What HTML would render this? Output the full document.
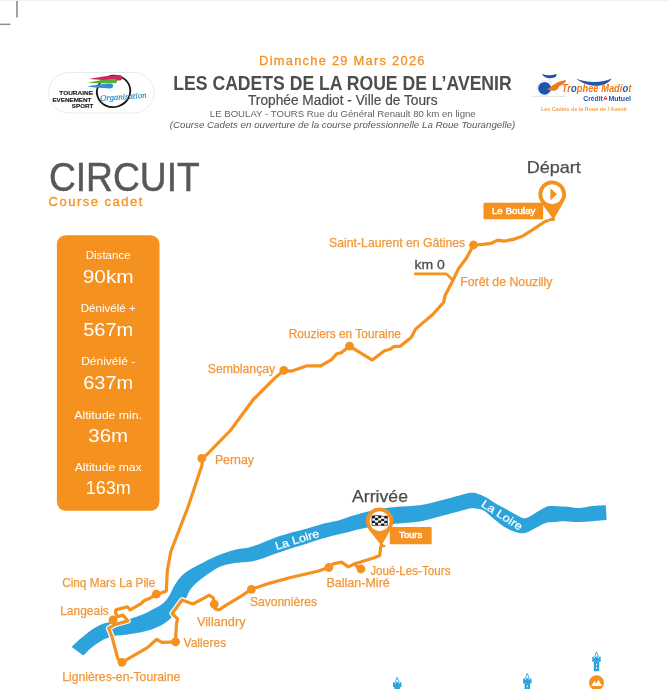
<!DOCTYPE html>
<html lang="fr"><head><meta charset="utf-8"><title>Les Cadets de la Roue de l'Avenir - Circuit</title>
<style>html,body{margin:0;padding:0;background:#fff;}body{width:668px;height:689px;overflow:hidden;}svg{display:block;font-family:'Liberation Sans', sans-serif;}</style>
</head><body>
<svg width="668" height="689" viewBox="0 0 668 689">
<rect width="668" height="689" fill="#fff"/>
<rect x="0" y="0" width="668" height="1" fill="#f1f1f1"/>
<rect x="16.2" y="1" width="1.6" height="16.4" fill="#8c8c8c"/>
<rect x="0" y="23.6" width="10.4" height="1.5" fill="#8c8c8c"/>
<g id="header">
<text x="259.1" y="64.9" font-size="12.9" fill="#F5911F" stroke="#F5911F" stroke-width="0.3" textLength="165.4" lengthAdjust="spacing">Dimanche 29 Mars 2026</text>
<text x="173.3" y="89.6" font-size="20.8" fill="#4d4d4f" font-weight="bold" textLength="338.4" lengthAdjust="spacingAndGlyphs">LES CADETS DE LA ROUE DE L’AVENIR</text>
<text x="248.0" y="105.4" font-size="15.2" fill="#4d4d4f" stroke="#4d4d4f" stroke-width="0.2" textLength="189.5" lengthAdjust="spacingAndGlyphs">Trophée Madiot - Ville de Tours</text>
<text x="209.8" y="116.9" font-size="9.8" fill="#636466" textLength="265.9" lengthAdjust="spacingAndGlyphs">LE BOULAY - TOURS Rue du Général Renault 80 km en ligne</text>
<text x="169.7" y="128.0" font-size="9.7" fill="#58585a" font-style="italic" textLength="345.6" lengthAdjust="spacingAndGlyphs">(Course Cadets en ouverture de la course professionnelle La Roue Tourangelle)</text>
</g>
<g id="logo-tes">
<rect x="48.6" y="72.5" width="105.4" height="40.4" rx="20.2" fill="#fff" stroke="#d2dfea" stroke-width="0.6"/>
<ellipse cx="113.6" cy="91.4" rx="16.8" ry="15.6" fill="none" stroke="#151515" stroke-width="1.8" transform="rotate(-18 113.6 91.4)"/>
<path d="M88.8 79 C98 77.4 108 75.8 118.6 75.1 C121.4 75 122.6 76.4 122.4 77.9 C122.2 79.5 120.8 80.5 118.8 80.5 C108 80.4 98 79.8 88.8 79Z" fill="#D5245F"/>
<path d="M87.8 82.8 C96 81 104.6 79.4 113.6 78.8 C116.2 78.7 117.4 79.9 117.2 81.2 C117 82.6 115.8 83.3 113.8 83.3 C104.6 83.4 96 83.2 87.8 82.8Z" fill="#59AF32"/>
<path d="M87.2 86.6 C94 85.2 102 83.9 109.4 83.5 C112.2 83.4 113.4 84.7 113.2 86.1 C113 87.6 111.8 88.4 109.6 88.4 C102 88.3 94 87.6 87.2 86.6Z" fill="#2F8FD6"/>
<text x="93.0" y="94.8" font-size="6" fill="#1d1d1d" stroke="#1d1d1d" stroke-width="0.15" text-anchor="end" font-weight="bold" textLength="33.7" lengthAdjust="spacingAndGlyphs">TOURAINE</text>
<text x="91.4" y="101.7" font-size="6" fill="#1d1d1d" stroke="#1d1d1d" stroke-width="0.15" text-anchor="end" font-weight="bold" textLength="39.0" lengthAdjust="spacingAndGlyphs">EVENEMENT</text>
<text x="93.4" y="108.3" font-size="6" fill="#1d1d1d" stroke="#1d1d1d" stroke-width="0.15" text-anchor="end" font-weight="bold" textLength="21.6" lengthAdjust="spacingAndGlyphs">SPORT</text>
<text x="100.3" y="101.0" font-size="8.4" fill="#3790C0" stroke="#3790C0" stroke-width="0.2" font-style="italic" textLength="46.5" lengthAdjust="spacingAndGlyphs" font-family="'Liberation Serif', serif" transform="rotate(-4 100.3 101)">Organisation</text>
</g>
<g id="logo-madiot">
<circle cx="544.6" cy="88.3" r="7.8" fill="none" stroke="#d3dbea" stroke-width="0.6"/>
<circle cx="561" cy="91" r="5.6" fill="none" stroke="#e1e5ee" stroke-width="0.6"/>
<circle cx="544.6" cy="88.3" r="6.4" fill="#1F55AE"/>
<path d="M541.6 73.8 C545.4 75.8 551 75.4 556.4 73.9 C556.8 75.6 556 76.9 554.4 77.5 C550 79.1 544.4 78.5 541.6 73.8Z" fill="#1F55AE"/>
<path d="M548.8 78.4 L551.2 82.6" stroke="#c4c4c4" stroke-width="0.7"/>
<path d="M547 89.3 C550 87.4 552 85.8 554 84.4 C557 82.4 561 80.8 564.5 80.2 C565.8 80 566.6 80.8 565.9 81.7 C563.8 83.4 561 85 559.1 86.6 C558.2 87.6 558 88.6 557.3 89.4 C555.8 90.4 553.6 90.8 552 90.6 C550.2 90.4 548.6 90 547 89.3Z" fill="#EE7A1A"/>
<path d="M531.3 96.4 L565.4 96.4" stroke="#cfcfcf" stroke-width="0.6"/>
<path d="M576.4 78.8 C583 84.4 592 86.6 600 85.6 C605 85 609 82.6 611.8 78.2 C607 80.8 601 82 594 82 C587 82 581 80.8 576.4 78.8Z" fill="#1F55AE"/>
<text x="561.8" y="92.1" font-size="10.3" font-weight="bold" font-style="italic" fill="#EE7A1A" textLength="69.5" lengthAdjust="spacingAndGlyphs">Tr<tspan fill="#1F55AE">o</tspan>phee Madi<tspan fill="#1F55AE">o</tspan>t</text>
<text x="583.3" y="100.6" font-size="6.8" fill="#1F55AE" font-weight="bold" textLength="19.5" lengthAdjust="spacingAndGlyphs">Crédit</text>
<path d="M603.2 99.6 l2.2 -4 l2.2 4z" fill="#E2231A"/><circle cx="605.4" cy="97.6" r="0.7" fill="#fff"/>
<text x="608.4" y="100.6" font-size="6.8" fill="#1F55AE" font-weight="bold" textLength="22.6" lengthAdjust="spacingAndGlyphs">Mutuel</text>
<text x="541.0" y="110.8" font-size="5.3" fill="#F0A050" font-weight="bold" textLength="86.0" lengthAdjust="spacing">Les Cadets de la Roue de l’Avenir</text>
</g>
<text x="48.9" y="190.9" font-size="41.3" fill="#58585a" stroke="#58585a" stroke-width="0.5" textLength="150.9" lengthAdjust="spacingAndGlyphs">CIRCUIT</text>
<text x="48.6" y="205.9" font-size="13" fill="#F5911F" stroke="#F5911F" stroke-width="0.3" textLength="93.7" lengthAdjust="spacing">Course cadet</text>
<g id="stats">
<rect x="56.9" y="235.2" width="102.6" height="275.6" rx="9" fill="#F5911F"/>
<text x="108.2" y="259.2" font-size="10.8" fill="#fff" text-anchor="middle" textLength="45.0" lengthAdjust="spacingAndGlyphs">Distance</text>
<text x="108.2" y="283.1" font-size="18.6" fill="#fff" text-anchor="middle" textLength="51.0" lengthAdjust="spacingAndGlyphs">90km</text>
<text x="108.2" y="312.2" font-size="10.8" fill="#fff" text-anchor="middle" textLength="55.0" lengthAdjust="spacingAndGlyphs">Dénivélé +</text>
<text x="108.2" y="335.5" font-size="18.6" fill="#fff" text-anchor="middle" textLength="50.0" lengthAdjust="spacingAndGlyphs">567m</text>
<text x="108.2" y="364.9" font-size="10.8" fill="#fff" text-anchor="middle" textLength="54.0" lengthAdjust="spacingAndGlyphs">Dénivélé -</text>
<text x="108.2" y="388.8" font-size="18.6" fill="#fff" text-anchor="middle" textLength="50.0" lengthAdjust="spacingAndGlyphs">637m</text>
<text x="108.2" y="418.8" font-size="10.8" fill="#fff" text-anchor="middle" textLength="68.0" lengthAdjust="spacingAndGlyphs">Altitude min.</text>
<text x="108.2" y="441.8" font-size="18.6" fill="#fff" text-anchor="middle" textLength="39.8" lengthAdjust="spacingAndGlyphs">36m</text>
<text x="108.2" y="471.2" font-size="10.8" fill="#fff" text-anchor="middle" textLength="67.0" lengthAdjust="spacingAndGlyphs">Altitude max</text>
<text x="108.2" y="493.7" font-size="18.6" fill="#fff" text-anchor="middle" textLength="45.0" lengthAdjust="spacingAndGlyphs">163m</text>
</g>
<g id="map">
<path d="M71.7 646.9 C73.2 645.5 77.7 641.1 81.0 638.3 C84.3 635.5 87.9 632.2 91.4 629.9 C94.9 627.6 98.9 625.6 101.9 624.3 C104.9 623.0 106.3 622.8 109.3 622.2 C112.3 621.6 116.2 621.5 120.0 620.8 C123.8 620.1 128.2 619.2 132.0 618.2 C135.8 617.2 138.8 616.2 142.5 614.6 C146.2 613.0 150.9 610.6 154.4 608.6 C157.9 606.6 160.9 605.1 163.4 602.9 C165.9 600.7 167.7 598.1 169.4 595.4 C171.2 592.7 172.2 589.4 173.9 586.5 C175.7 583.6 177.7 580.3 179.9 577.8 C182.1 575.3 183.8 573.7 187.0 571.5 C190.2 569.3 194.6 567.1 199.4 564.6 C204.2 562.1 210.4 558.6 215.9 556.3 C221.4 554.0 228.3 551.9 232.3 550.6 C236.3 549.3 237.2 549.2 240.0 548.7 C242.8 548.2 245.2 548.4 249.0 547.4 C252.8 546.4 257.8 544.5 262.5 542.7 C267.2 540.9 272.4 538.5 277.4 536.7 C282.4 535.0 287.4 533.6 292.4 532.2 C297.4 530.8 302.4 529.8 307.4 528.4 C312.4 527.0 318.5 525.0 322.3 524.0 C326.1 523.0 327.1 523.0 330.0 522.3 C332.9 521.6 336.2 521.1 340.0 520.0 C343.8 518.9 347.8 517.2 352.5 515.8 C357.2 514.4 363.1 512.6 368.2 511.4 C373.3 510.2 378.1 509.4 383.0 508.6 C387.9 507.8 391.3 507.4 397.4 506.8 C403.5 506.2 412.3 506.4 419.8 505.3 C427.3 504.2 434.8 502.0 442.3 500.1 C449.8 498.2 459.8 495.2 464.7 494.0 C469.6 492.8 469.9 492.9 472.0 492.8 C474.1 492.7 474.8 492.7 477.0 493.4 C479.2 494.1 482.4 495.4 485.4 497.0 C488.4 498.6 491.3 500.9 494.9 503.0 C498.5 505.1 503.3 507.6 506.9 509.6 C510.5 511.6 513.7 513.5 516.5 514.9 C519.3 516.3 521.5 518.0 523.7 518.3 C525.9 518.5 527.5 517.4 529.7 516.4 C531.9 515.4 534.4 513.5 536.9 512.0 C539.4 510.5 542.8 508.5 545.0 507.5 C547.2 506.5 547.2 506.1 550.4 506.0 C553.6 505.9 559.7 506.3 564.4 506.6 C569.1 506.9 573.8 508.1 578.5 508.0 C583.2 507.9 588.1 506.5 592.6 506.0 C597.1 505.5 603.6 505.3 605.8 505.2 L606.6 520.1 C604.3 520.3 597.3 520.9 592.6 521.2 C587.9 521.5 583.2 522.1 578.5 522.1 C573.8 522.1 568.6 521.2 564.4 521.2 C560.2 521.2 556.4 521.8 553.2 522.1 C550.0 522.5 548.5 522.0 545.0 523.3 C541.5 524.6 535.4 528.3 532.0 529.9 C528.6 531.5 527.1 532.4 524.9 532.9 C522.7 533.4 520.9 533.2 518.9 532.9 C516.9 532.6 515.3 532.1 512.9 531.1 C510.5 530.1 507.5 528.8 504.5 526.9 C501.5 525.0 498.3 522.4 494.9 519.7 C491.5 517.0 487.4 512.6 484.2 510.7 C481.0 508.8 478.2 508.8 475.8 508.4 C473.4 508.0 471.9 508.3 470.0 508.5 C468.1 508.7 469.3 508.6 464.7 509.8 C460.1 511.0 449.8 513.9 442.3 515.8 C434.8 517.7 427.7 520.1 419.8 521.4 C411.9 522.7 404.1 522.6 395.1 523.7 C386.1 524.8 373.8 526.4 365.9 527.8 C358.0 529.2 352.3 531.2 348.0 532.2 C343.7 533.2 343.0 533.3 340.0 534.0 C337.0 534.7 332.9 535.7 330.0 536.5 C327.1 537.3 326.1 537.5 322.3 538.6 C318.5 539.8 312.4 541.9 307.4 543.4 C302.4 544.9 297.4 546.3 292.4 547.9 C287.4 549.5 282.8 551.2 277.4 553.1 C272.0 555.0 264.7 557.9 260.0 559.3 C255.3 560.7 252.3 561.2 249.0 561.7 C245.7 562.2 242.8 562.2 240.0 562.5 C237.2 562.8 235.8 562.6 232.3 563.4 C228.8 564.1 223.4 565.1 219.2 567.0 C215.0 568.9 210.6 572.3 207.0 574.8 C203.4 577.3 200.6 579.3 197.8 581.8 C195.0 584.2 192.4 586.7 190.4 589.5 C188.4 592.3 187.7 595.4 185.9 598.4 C184.2 601.4 182.2 604.4 179.9 607.4 C177.7 610.4 175.2 613.6 172.4 616.4 C169.7 619.1 167.2 621.6 163.4 623.9 C159.7 626.1 154.6 628.3 149.9 629.9 C145.2 631.5 139.0 632.5 135.0 633.3 C131.0 634.1 129.0 634.3 126.0 634.7 C123.0 635.1 119.8 635.1 117.0 635.6 C114.2 636.1 111.8 636.7 109.3 637.5 C106.8 638.3 104.9 638.7 101.9 640.4 C98.9 642.1 94.5 645.2 91.4 647.7 C88.3 650.2 84.7 654.3 83.3 655.6 Z" fill="#2CA3DC"/>
<text x="0.0" y="0.0" font-size="11.2" fill="#fff" stroke="#fff" stroke-width="0.25" textLength="45.6" lengthAdjust="spacingAndGlyphs" transform="translate(276.4 550) rotate(-17)">La Loire</text>
<text x="0.0" y="0.0" font-size="11.2" fill="#fff" stroke="#fff" stroke-width="0.25" textLength="46.4" lengthAdjust="spacingAndGlyphs" transform="translate(480.5 505.9) rotate(32.6)">La Loire</text>
<path d="M553.5 219.3 L550.1 219.5 L545.0 221.5 L531.3 230.7 L522.9 235.9 L514.5 239.1 L504.0 241.2 L497.7 240.1 L491.4 243.3 L483.0 244.3 L473.5 245.0 L466.7 257.7 L458.6 268.5 L453.2 279.8 L445.1 295.5 L443.7 302.2 L433.0 314.3 L415.5 329.1 L411.4 337.2 L400.6 346.1 L393.9 346.7 L389.9 349.3 L384.5 350.7 L372.3 360.1 L349.5 346.2 L340.9 352.9 L336.9 353.7 L331.5 359.6 L320.7 365.8 L307.2 365.8 L291.0 371.2 L283.8 370.4 L273.5 379.3 L253.3 399.5 L230.4 430.5 L207.5 453.9 L201.8 458.4 L202.2 464.4 L188.3 506.2 L170.9 551.4 L167.4 570.0 L166.3 590.9 L160.4 593.2 L156.4 594.2 L150.5 597.9 L144.3 600.5 L141.1 603.6 L130.1 609.9 L127.5 606.8 L116.0 609.9 L115.4 612.5 L117.5 616.7 L122.8 615.1 L128.0 620.9 L114.9 624.6 L108.6 628.2 L111.8 636.1 L117.9 658.8 L122.0 662.3 L147.4 647.6 L156.8 639.3 L162.0 642.4 L175.4 641.8 L176.4 625.0 L177.5 618.8 L172.2 613.5 L182.0 600.0 L193.0 604.0 L209.4 595.2 L213.5 598.0 L214.3 604.1 L214.8 608.7 L218.9 610.0 L227.0 604.7 L240.4 596.6 L251.2 589.3 L270.0 583.1 L291.6 577.2 L313.2 572.3 L318.6 571.0 L328.8 567.5 L333.4 563.7 L341.5 562.1 L348.2 566.9 L355.0 563.8 L375.0 557.5 L379.7 555.5 L380.5 548.0 L381.4 545.3" fill="none" stroke="#fff" stroke-width="5.6" stroke-linejoin="round" stroke-linecap="round"/>
<path d="M355.2 563.8 L357.2 567.0 L361.0 569.0" fill="none" stroke="#fff" stroke-width="5.6" stroke-linejoin="round" stroke-linecap="round"/>
<path d="M553.5 219.3 L550.1 219.5 L545.0 221.5 L531.3 230.7 L522.9 235.9 L514.5 239.1 L504.0 241.2 L497.7 240.1 L491.4 243.3 L483.0 244.3 L473.5 245.0 L466.7 257.7 L458.6 268.5 L453.2 279.8 L445.1 295.5 L443.7 302.2 L433.0 314.3 L415.5 329.1 L411.4 337.2 L400.6 346.1 L393.9 346.7 L389.9 349.3 L384.5 350.7 L372.3 360.1 L349.5 346.2 L340.9 352.9 L336.9 353.7 L331.5 359.6 L320.7 365.8 L307.2 365.8 L291.0 371.2 L283.8 370.4 L273.5 379.3 L253.3 399.5 L230.4 430.5 L207.5 453.9 L201.8 458.4 L202.2 464.4 L188.3 506.2 L170.9 551.4 L167.4 570.0 L166.3 590.9 L160.4 593.2 L156.4 594.2 L150.5 597.9 L144.3 600.5 L141.1 603.6 L130.1 609.9 L127.5 606.8 L116.0 609.9 L115.4 612.5 L117.5 616.7 L122.8 615.1 L128.0 620.9 L114.9 624.6 L108.6 628.2 L111.8 636.1 L117.9 658.8 L122.0 662.3 L147.4 647.6 L156.8 639.3 L162.0 642.4 L175.4 641.8 L176.4 625.0 L177.5 618.8 L172.2 613.5 L182.0 600.0 L193.0 604.0 L209.4 595.2 L213.5 598.0 L214.3 604.1 L214.8 608.7 L218.9 610.0 L227.0 604.7 L240.4 596.6 L251.2 589.3 L270.0 583.1 L291.6 577.2 L313.2 572.3 L318.6 571.0 L328.8 567.5 L333.4 563.7 L341.5 562.1 L348.2 566.9 L355.0 563.8 L375.0 557.5 L379.7 555.5 L380.5 548.0 L381.4 545.3" fill="none" stroke="#F5911F" stroke-width="3.2" stroke-linejoin="round" stroke-linecap="round"/>
<path d="M355.2 563.8 L357.2 567.0 L361.0 569.0" fill="none" stroke="#F5911F" stroke-width="3.2" stroke-linejoin="round" stroke-linecap="round"/>
<path d="M414.1 273.9 L446.4 273.9 L452.6 279.8" fill="none" stroke="#F5911F" stroke-width="2.6" stroke-linejoin="round" stroke-linecap="butt"/>
<circle cx="473.5" cy="245.0" r="4.4" fill="#F5911F"/>
<circle cx="349.5" cy="346.2" r="4.4" fill="#F5911F"/>
<circle cx="283.8" cy="370.4" r="4.4" fill="#F5911F"/>
<circle cx="201.8" cy="458.4" r="4.4" fill="#F5911F"/>
<circle cx="156.4" cy="594.2" r="4.4" fill="#F5911F"/>
<circle cx="113.0" cy="619.9" r="4.4" fill="#F5911F"/>
<circle cx="122.0" cy="662.3" r="4.4" fill="#F5911F"/>
<circle cx="175.6" cy="641.8" r="4.4" fill="#F5911F"/>
<circle cx="214.3" cy="604.1" r="4.4" fill="#F5911F"/>
<circle cx="251.4" cy="589.3" r="4.4" fill="#F5911F"/>
<circle cx="328.8" cy="567.5" r="4.4" fill="#F5911F"/>
<circle cx="361.0" cy="569.0" r="4.4" fill="#F5911F"/>
<rect x="483.5" y="202.7" width="59.8" height="16.6" rx="1" fill="#F5911F"/>
<path d="M543.3 209 L549.6 219.3 L543.3 219.3Z" fill="#fff"/>
<path d="M553.50 219.60 L541.03 202.40 A13.80 13.80 0 1 1 564.14 201.21 Z" fill="#F5911F"/><circle cx="552.20" cy="194.30" r="10.00" fill="#fff"/>
<path d="M550.4 188.3 L556.9 194.3 L550.4 200.6Z" fill="#F5911F"/>
<text x="491.9" y="213.9" font-size="9.4" fill="#fff" stroke="#fff" stroke-width="0.5" textLength="43.6" lengthAdjust="spacingAndGlyphs">Le Boulay</text>
<text x="526.7" y="172.6" font-size="16.1" fill="#4d4d4f" stroke="#4d4d4f" stroke-width="0.25" textLength="54.2" lengthAdjust="spacingAndGlyphs">Départ</text>
<rect x="389.8" y="527" width="41.9" height="17.3" rx="1" fill="#F5911F"/>
<path d="M381.40 545.60 L368.81 529.80 A13.80 13.80 0 1 1 391.54 528.12 Z" fill="#F5911F"/><circle cx="379.60" cy="521.20" r="10.00" fill="#fff"/>
<g id="flag">
<path d="M372.00 516.00 q3.8 -1.3 7.65 -0.2 t7.65 0.3 v9.44 q-3.8 -1.1 -7.65 -0.3 t-7.65 0.2z" fill="#fff" stroke="#1a1a1a" stroke-width="0.7" stroke-linejoin="round"/>
<rect x="372.00" y="516.00" width="3.06" height="2.36" fill="#1a1a1a"/>
<rect x="378.12" y="515.80" width="3.06" height="2.36" fill="#1a1a1a"/>
<rect x="384.24" y="516.10" width="3.06" height="2.36" fill="#1a1a1a"/>
<rect x="375.06" y="517.86" width="3.06" height="2.36" fill="#1a1a1a"/>
<rect x="381.18" y="518.76" width="3.06" height="2.36" fill="#1a1a1a"/>
<rect x="372.00" y="520.72" width="3.06" height="2.36" fill="#1a1a1a"/>
<rect x="378.12" y="520.52" width="3.06" height="2.36" fill="#1a1a1a"/>
<rect x="384.24" y="520.82" width="3.06" height="2.36" fill="#1a1a1a"/>
<rect x="375.06" y="522.58" width="3.06" height="2.36" fill="#1a1a1a"/>
<rect x="381.18" y="523.48" width="3.06" height="2.36" fill="#1a1a1a"/>
</g>
<path d="M381.4 545.4 L384.2 546" stroke="#F5911F" stroke-width="2.6" stroke-linecap="round"/>
<text x="399.2" y="538.1" font-size="9.4" fill="#fff" stroke="#fff" stroke-width="0.5" textLength="23.0" lengthAdjust="spacingAndGlyphs">Tours</text>
<text x="352.0" y="501.6" font-size="16.1" fill="#4d4d4f" stroke="#4d4d4f" stroke-width="0.25" textLength="56.0" lengthAdjust="spacingAndGlyphs">Arrivée</text>
<text x="329.1" y="246.7" font-size="11.9" fill="#F0983A" stroke="#F0983A" stroke-width="0.25" textLength="136.1" lengthAdjust="spacingAndGlyphs">Saint-Laurent en Gâtines</text>
<text x="460.2" y="285.9" font-size="11.9" fill="#F0983A" stroke="#F0983A" stroke-width="0.25" textLength="92.3" lengthAdjust="spacingAndGlyphs">Forêt de Nouzilly</text>
<text x="288.7" y="338.4" font-size="11.9" fill="#F0983A" stroke="#F0983A" stroke-width="0.25" textLength="112.3" lengthAdjust="spacingAndGlyphs">Rouziers en Touraine</text>
<text x="207.8" y="373.4" font-size="11.9" fill="#F0983A" stroke="#F0983A" stroke-width="0.25" textLength="67.4" lengthAdjust="spacingAndGlyphs">Semblançay</text>
<text x="214.9" y="463.6" font-size="11.9" fill="#F0983A" stroke="#F0983A" stroke-width="0.25" textLength="39.1" lengthAdjust="spacingAndGlyphs">Pernay</text>
<text x="62.2" y="587.1" font-size="11.9" fill="#F0983A" stroke="#F0983A" stroke-width="0.25" textLength="93.0" lengthAdjust="spacingAndGlyphs">Cinq Mars La Pile</text>
<text x="60.2" y="614.9" font-size="11.9" fill="#F0983A" stroke="#F0983A" stroke-width="0.25" textLength="48.6" lengthAdjust="spacingAndGlyphs">Langeais</text>
<text x="62.2" y="681.4" font-size="11.9" fill="#F0983A" stroke="#F0983A" stroke-width="0.25" textLength="118.2" lengthAdjust="spacingAndGlyphs">Lignières-en-Touraine</text>
<text x="183.5" y="646.8" font-size="11.9" fill="#F0983A" stroke="#F0983A" stroke-width="0.25" textLength="42.7" lengthAdjust="spacingAndGlyphs">Valleres</text>
<text x="197.0" y="626.1" font-size="11.9" fill="#F0983A" stroke="#F0983A" stroke-width="0.25" textLength="48.5" lengthAdjust="spacingAndGlyphs">Villandry</text>
<text x="250.0" y="606.4" font-size="11.9" fill="#F0983A" stroke="#F0983A" stroke-width="0.25" textLength="66.9" lengthAdjust="spacingAndGlyphs">Savonnières</text>
<text x="326.4" y="586.5" font-size="11.9" fill="#F0983A" stroke="#F0983A" stroke-width="0.25" textLength="63.4" lengthAdjust="spacingAndGlyphs">Ballan-Miré</text>
<text x="370.2" y="574.6" font-size="11.9" fill="#F0983A" stroke="#F0983A" stroke-width="0.25" textLength="80.3" lengthAdjust="spacingAndGlyphs">Joué-Les-Tours</text>
<text x="414.4" y="269.1" font-size="13.2" fill="#4d4d4f" stroke="#4d4d4f" stroke-width="0.3" textLength="30.4" lengthAdjust="spacingAndGlyphs">km 0</text>
<g fill="#2CA3DC"><path d="M397.2 677.3 l2.2 5.4 h-4.4z" fill="#fff" stroke="#2CA3DC" stroke-width="0.9" stroke-linejoin="round"/><rect x="393.0" y="682.2" width="8.4" height="5" rx="0.5"/><rect x="394.8" y="682.2" width="0.9" height="1.5" fill="#fff"/><rect x="398.7" y="682.2" width="0.9" height="1.5" fill="#fff"/><rect x="394.5" y="687.0" width="5.4" height="9.6"/><rect x="396.6" y="689.2" width="1.1" height="1.7" fill="#fff"/><rect x="396.6" y="692.6" width="1.1" height="1.7" fill="#fff"/></g>
<g fill="#2CA3DC"><path d="M527.3 673.5 l2.2 5.4 h-4.4z" fill="#fff" stroke="#2CA3DC" stroke-width="0.9" stroke-linejoin="round"/><rect x="523.1" y="678.4" width="8.4" height="5" rx="0.5"/><rect x="524.9" y="678.4" width="0.9" height="1.5" fill="#fff"/><rect x="528.8" y="678.4" width="0.9" height="1.5" fill="#fff"/><rect x="524.6" y="683.2" width="5.4" height="9.6"/><rect x="526.8" y="685.4" width="1.1" height="1.7" fill="#fff"/><rect x="526.8" y="688.8" width="1.1" height="1.7" fill="#fff"/></g>
<g fill="#2CA3DC"><path d="M596.5 651.9 l2.2 5.4 h-4.4z" fill="#fff" stroke="#2CA3DC" stroke-width="0.9" stroke-linejoin="round"/><rect x="592.3" y="656.8" width="8.4" height="5" rx="0.5"/><rect x="594.1" y="656.8" width="0.9" height="1.5" fill="#fff"/><rect x="598.0" y="656.8" width="0.9" height="1.5" fill="#fff"/><rect x="593.8" y="661.6" width="5.4" height="9.6"/><rect x="596.0" y="663.8" width="1.1" height="1.7" fill="#fff"/><rect x="596.0" y="667.2" width="1.1" height="1.7" fill="#fff"/></g>
<circle cx="596.5" cy="682.7" r="7.5" fill="#F5911F"/>
<path d="M591.2 686 l3.2 -5 l1.8 2.4 l2.2 -3.6 l3.6 6.2z" fill="#fff"/>
</g>
</svg>
</body></html>
